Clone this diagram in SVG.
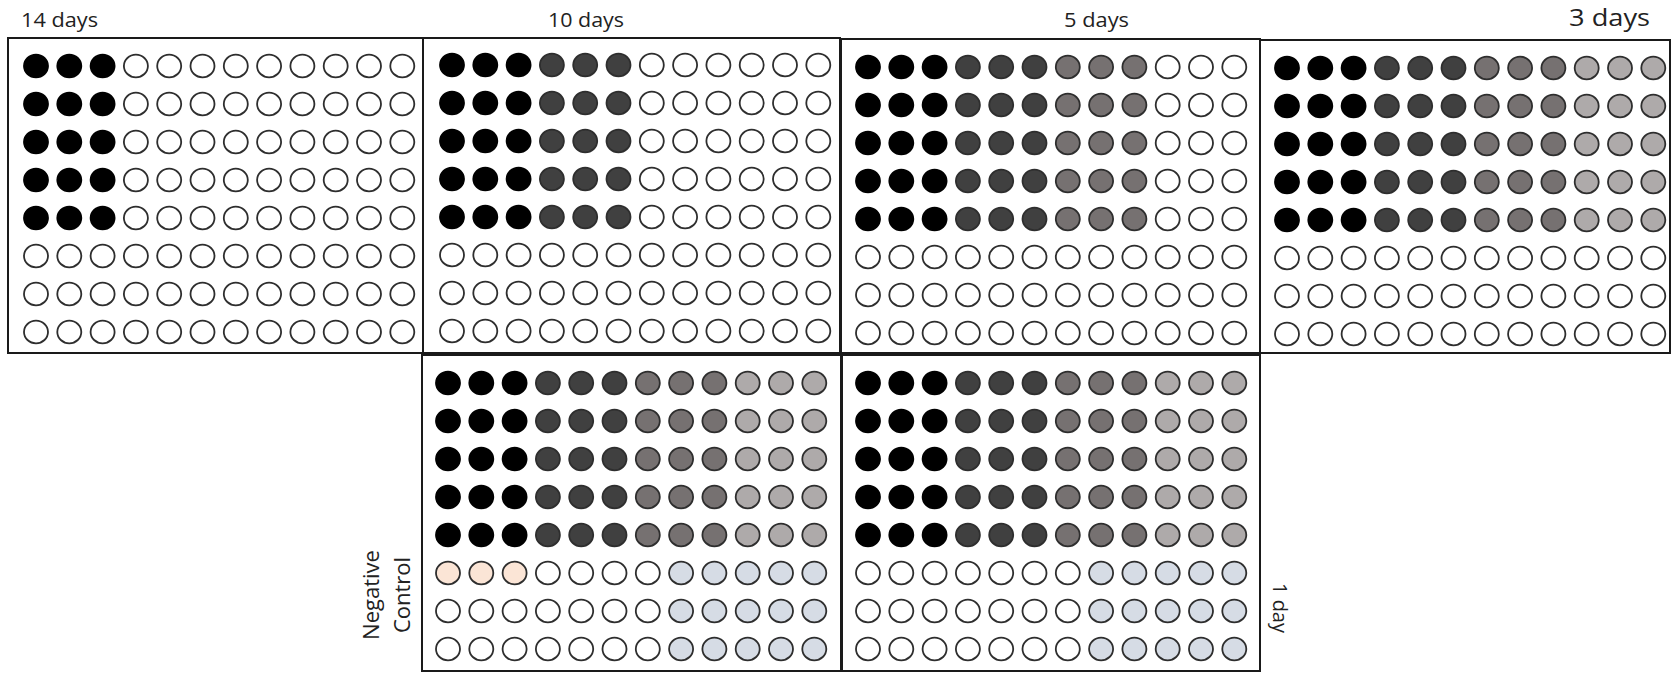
<svg xmlns="http://www.w3.org/2000/svg" xmlns:xlink="http://www.w3.org/1999/xlink" width="1673" height="673" viewBox="0 0 1673 673">
<style>
.plate{fill:#fff;stroke:#1a1a1a;stroke-width:2}
ellipse{stroke:#2e2e2e;stroke-width:1.8}
.k{fill:#000;stroke:#000}
.d{fill:#404040}
.m{fill:#767171}
.l{fill:#aeaaaa}
.w{fill:#fff}
.p{fill:#fbe5d6}
.b{fill:#d6dce5}
.lbl{font-family:"Open Sans","Liberation Sans",sans-serif;font-size:20px;fill:#222}
</style>
<defs>
<ellipse id="K" rx="12" ry="11.3" class="k"/>
<ellipse id="D" rx="12" ry="11.3" class="d"/>
<ellipse id="M" rx="12" ry="11.3" class="m"/>
<ellipse id="L" rx="12" ry="11.3" class="l"/>
<ellipse id="W" rx="12" ry="11.3" class="w"/>
<ellipse id="P" rx="12" ry="11.3" class="p"/>
<ellipse id="B" rx="12" ry="11.3" class="b"/>
<g id="rowA"><use href="#K" x="0"/><use href="#K" x="33.3"/><use href="#K" x="66.6"/><use href="#W" x="99.9"/><use href="#W" x="133.2"/><use href="#W" x="166.5"/><use href="#W" x="199.8"/><use href="#W" x="233.1"/><use href="#W" x="266.4"/><use href="#W" x="299.7"/><use href="#W" x="333"/><use href="#W" x="366.3"/></g>
<g id="rowB"><use href="#K" x="0"/><use href="#K" x="33.3"/><use href="#K" x="66.6"/><use href="#D" x="99.9"/><use href="#D" x="133.2"/><use href="#D" x="166.5"/><use href="#W" x="199.8"/><use href="#W" x="233.1"/><use href="#W" x="266.4"/><use href="#W" x="299.7"/><use href="#W" x="333"/><use href="#W" x="366.3"/></g>
<g id="rowC"><use href="#K" x="0"/><use href="#K" x="33.3"/><use href="#K" x="66.6"/><use href="#D" x="99.9"/><use href="#D" x="133.2"/><use href="#D" x="166.5"/><use href="#M" x="199.8"/><use href="#M" x="233.1"/><use href="#M" x="266.4"/><use href="#W" x="299.7"/><use href="#W" x="333"/><use href="#W" x="366.3"/></g>
<g id="rowD"><use href="#K" x="0"/><use href="#K" x="33.3"/><use href="#K" x="66.6"/><use href="#D" x="99.9"/><use href="#D" x="133.2"/><use href="#D" x="166.5"/><use href="#M" x="199.8"/><use href="#M" x="233.1"/><use href="#M" x="266.4"/><use href="#L" x="299.7"/><use href="#L" x="333"/><use href="#L" x="366.3"/></g>
<g id="rowW"><use href="#W" x="0"/><use href="#W" x="33.3"/><use href="#W" x="66.6"/><use href="#W" x="99.9"/><use href="#W" x="133.2"/><use href="#W" x="166.5"/><use href="#W" x="199.8"/><use href="#W" x="233.1"/><use href="#W" x="266.4"/><use href="#W" x="299.7"/><use href="#W" x="333"/><use href="#W" x="366.3"/></g>
<g id="rowN"><use href="#P" x="0"/><use href="#P" x="33.3"/><use href="#P" x="66.6"/><use href="#W" x="99.9"/><use href="#W" x="133.2"/><use href="#W" x="166.5"/><use href="#W" x="199.8"/><use href="#B" x="233.1"/><use href="#B" x="266.4"/><use href="#B" x="299.7"/><use href="#B" x="333"/><use href="#B" x="366.3"/></g>
<g id="rowE"><use href="#W" x="0"/><use href="#W" x="33.3"/><use href="#W" x="66.6"/><use href="#W" x="99.9"/><use href="#W" x="133.2"/><use href="#W" x="166.5"/><use href="#W" x="199.8"/><use href="#B" x="233.1"/><use href="#B" x="266.4"/><use href="#B" x="299.7"/><use href="#B" x="333"/><use href="#B" x="366.3"/></g>
</defs>
<rect width="1673" height="673" fill="#fff"/>

<g id="plate-14days">
<rect class="plate" x="8" y="38" width="415" height="315"/>
<text class="lbl" x="21" y="27" textLength="77" lengthAdjust="spacingAndGlyphs">14 days</text>
<g transform="translate(36,66)">
<use href="#rowA" y="0"/><use href="#rowA" y="38"/><use href="#rowA" y="76"/><use href="#rowA" y="114"/><use href="#rowA" y="152"/><use href="#rowW" y="190"/><use href="#rowW" y="228"/><use href="#rowW" y="266"/>
</g>
</g>

<g id="plate-10days">
<rect class="plate" x="423" y="38" width="417" height="315"/>
<text class="lbl" x="548" y="27" textLength="76" lengthAdjust="spacingAndGlyphs">10 days</text>
<g transform="translate(452,65)">
<use href="#rowB" y="0"/><use href="#rowB" y="38"/><use href="#rowB" y="76"/><use href="#rowB" y="114"/><use href="#rowB" y="152"/><use href="#rowW" y="190"/><use href="#rowW" y="228"/><use href="#rowW" y="266"/>
</g>
</g>

<g id="plate-5days">
<rect class="plate" x="841" y="39" width="419" height="314"/>
<text class="lbl" x="1064" y="27" textLength="65" lengthAdjust="spacingAndGlyphs">5 days</text>
<g transform="translate(868,67)">
<use href="#rowC" y="0"/><use href="#rowC" y="38"/><use href="#rowC" y="76"/><use href="#rowC" y="114"/><use href="#rowC" y="152"/><use href="#rowW" y="190"/><use href="#rowW" y="228"/><use href="#rowW" y="266"/>
</g>
</g>

<g id="plate-3days">
<rect class="plate" x="1260" y="40" width="410" height="313"/>
<text class="lbl" x="1569" y="26" style="font-size:24px" textLength="81" lengthAdjust="spacingAndGlyphs">3 days</text>
<g transform="translate(1287,68)">
<use href="#rowD" y="0"/><use href="#rowD" y="38"/><use href="#rowD" y="76"/><use href="#rowD" y="114"/><use href="#rowD" y="152"/><use href="#rowW" y="190"/><use href="#rowW" y="228"/><use href="#rowW" y="266"/>
</g>
</g>

<g id="plate-negative-control">
<rect class="plate" x="422" y="355" width="419" height="316"/>
<text class="lbl" style="font-size:22px" text-anchor="middle" transform="translate(379,595) rotate(-90)">Negative</text>
<text class="lbl" style="font-size:22px" text-anchor="middle" transform="translate(410,595) rotate(-90)">Control</text>
<g transform="translate(448,383)">
<use href="#rowD" y="0"/><use href="#rowD" y="38"/><use href="#rowD" y="76"/><use href="#rowD" y="114"/><use href="#rowD" y="152"/><use href="#rowN" y="190"/><use href="#rowE" y="228"/><use href="#rowE" y="266"/>
</g>
</g>

<g id="plate-1day">
<rect class="plate" x="842" y="355" width="418" height="316"/>
<text class="lbl" text-anchor="middle" transform="translate(1273,608) rotate(90)">1 day</text>
<g transform="translate(868,383)">
<use href="#rowD" y="0"/><use href="#rowD" y="38"/><use href="#rowD" y="76"/><use href="#rowD" y="114"/><use href="#rowD" y="152"/><use href="#rowE" y="190"/><use href="#rowE" y="228"/><use href="#rowE" y="266"/>
</g>
</g>

<g id="connectors"/>
</svg>
